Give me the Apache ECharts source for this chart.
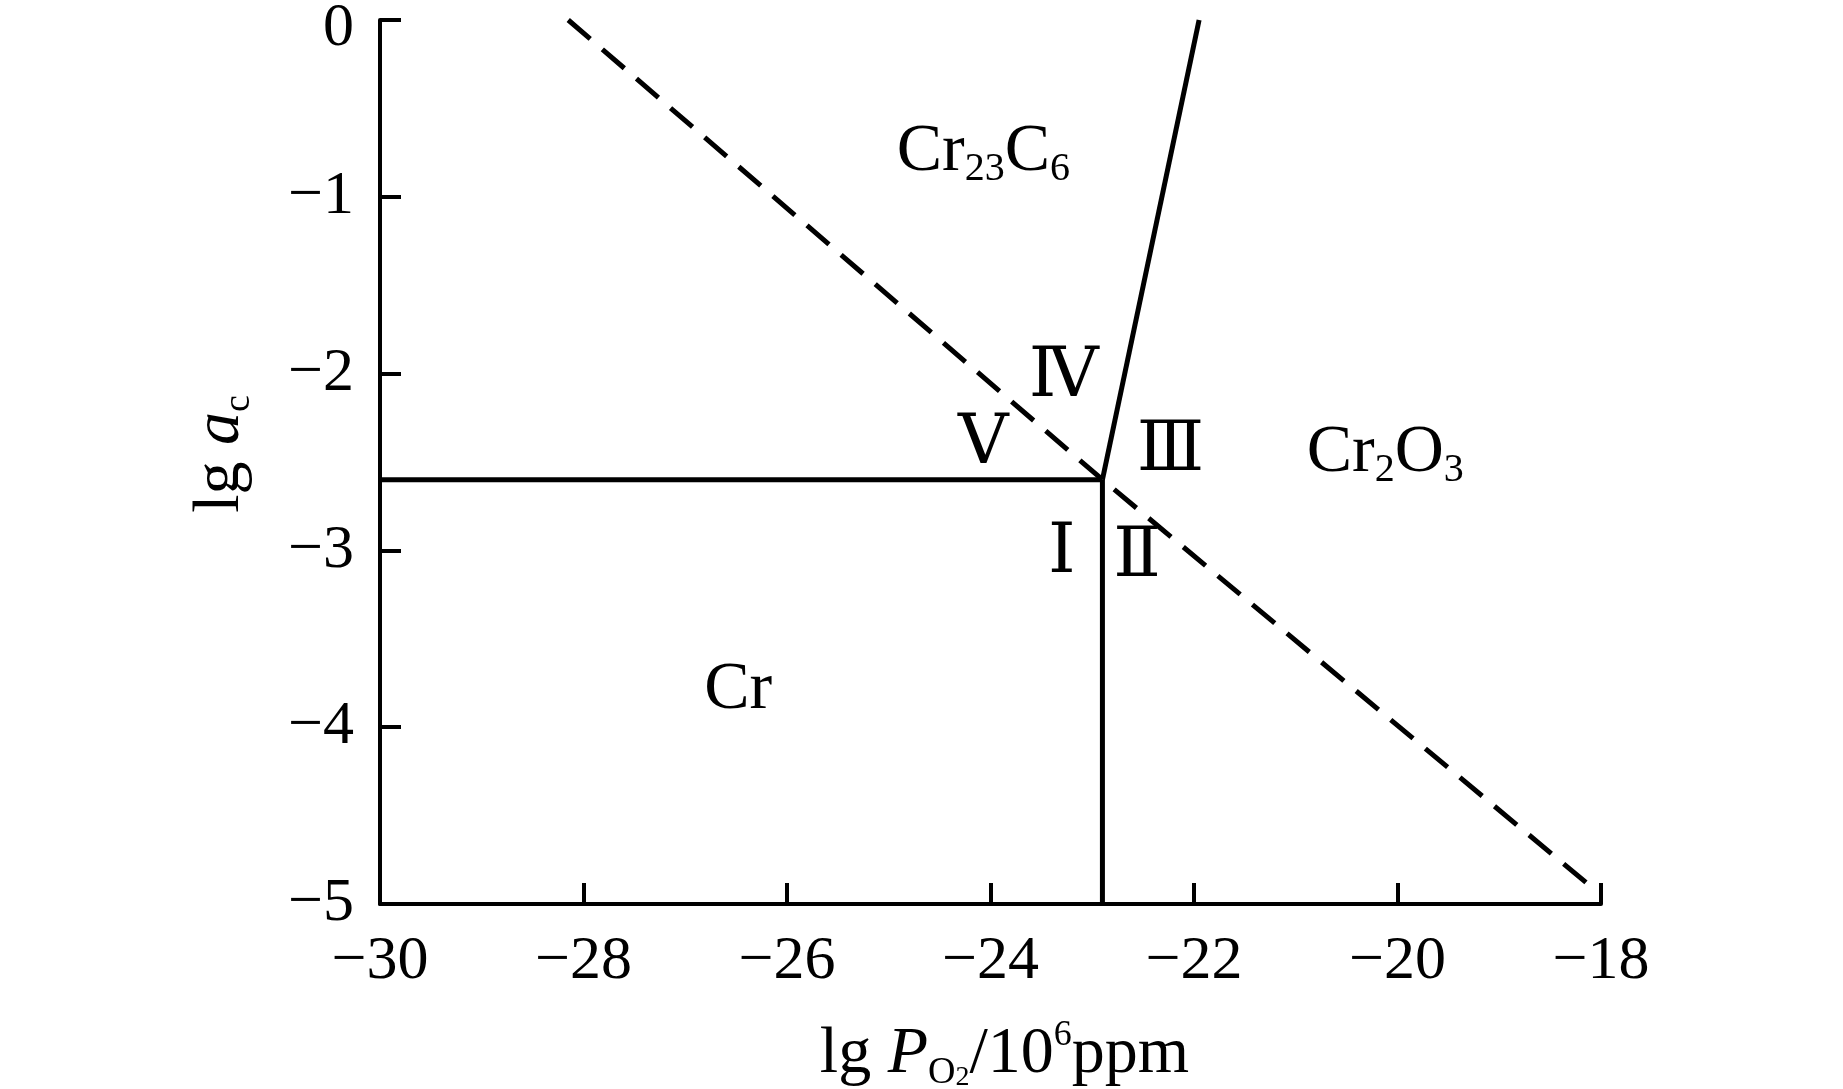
<!DOCTYPE html>
<html>
<head>
<meta charset="utf-8">
<script src="https://cdn.jsdelivr.net/npm/echarts@6/dist/echarts.min.js"></script>
<style>
html,body{margin:0;padding:0;background:#fff;}
#chart{width:1843px;height:1089px;}
</style>
</head>
<body>
<div id="chart"></div>
<script>
// ---- Data ----
const xTicks = [-30, -28, -26, -24, -22, -20, -18];
const yTicks = [0, -1, -2, -3, -4, -5];
// Cr / Cr23C6 boundary (horizontal solid)
const lineCrCr23C6 = [[-30, -2.6], [-22.9, -2.6]];
// Cr / Cr2O3 boundary (vertical solid)
const lineCrCr2O3 = [[-22.9, -2.6], [-22.9, -5]];
// Cr23C6 / Cr2O3 boundary (steep solid)
const lineCr23C6Cr2O3 = [[-22.9, -2.6], [-21.95, 0]];
// dashed line
const lineDashed = [[-28.15, 0], [-22.9, -2.6], [-18.06, -4.92]];
// phase names and region numerals: [x, y, richText]
const phaseLabels = [
  [-24.07, -0.75, '{m|Cr}{s|23}{m|C}{s|6}'],
  [-20.12, -2.45, '{m|Cr}{s|2}{m|O}{s|3}'],
  [-26.48, -3.79, '{m|Cr}']
];
const regionLabels = [
  [-23.3, -3.02, 'Ⅰ'],
  [-22.56, -3.04, 'Ⅱ'],
  [-22.23, -2.44, 'Ⅲ'],
  [-23.28, -2.02, 'Ⅳ'],
  [-24.07, -2.40, 'Ⅴ']
];

const FONT = '"Liberation Serif", "Times New Roman", "DejaVu Serif", serif';
const fmt = v => v === 0 ? '{z|0}' : String(v).replace('-', '\u2212');

const solid = (data) => ({
  type: 'line', data, symbol: 'none', silent: true,
  lineStyle: { color: '#000', width: 5 }, z: 3
});

const textSeries = (rows, style) => ({
  type: 'custom', silent: true, z: 6,
  data: rows.map(r => [r[0], r[1], r[2]]),
  dimensions: ['x', 'y', 't'],
  renderItem: (params, api) => {
    const p = api.coord([api.value(0), api.value(1)]);
    const row = rows[params.dataIndex];
    return {
      type: 'text', x: p[0], y: p[1],
      style: Object.assign({ text: row[2], align: 'center', verticalAlign: 'middle', fill: '#000' }, style)
    };
  }
});

const chart = echarts.init(document.getElementById('chart'), null, { renderer: 'canvas' });
chart.setOption({
  backgroundColor: '#fff',
  animation: false,
  grid: { left: 380, right: 242, top: 20, bottom: 185, containLabel: false, outerBoundsMode: 'none' },
  xAxis: {
    type: 'value', min: xTicks[0], max: xTicks[xTicks.length - 1], interval: 2,
    axisLine: { show: true, onZero: false, lineStyle: { color: '#000', width: 4 } },
    axisTick: { show: true, inside: true, length: 21, lineStyle: { color: '#000', width: 4 } },
    splitLine: { show: false },
    axisLabel: { color: '#000', fontSize: 62, fontFamily: FONT, margin: 27, formatter: fmt,
      rich: { z: { fontSize: 62, fontFamily: FONT, color: '#000' } } },
    name: '{n|lg }{i|P}{sub|O}{sub2|2}{n|/10}{sup|6}{n|ppm}',
    nameLocation: 'middle', nameGap: 114,
    nameTextStyle: {
      color: '#000', fontFamily: FONT, fontSize: 66, padding: [0, 0, 0, 28],
      rich: {
        n: { fontSize: 66, fontFamily: FONT, color: '#000', lineHeight: 74 },
        i: { fontSize: 66, fontFamily: FONT, fontStyle: 'italic', color: '#000', lineHeight: 74 },
        sub: { fontSize: 38, fontFamily: FONT, color: '#000', verticalAlign: 'bottom', lineHeight: 30 },
        sub2: { fontSize: 28, fontFamily: FONT, color: '#000', verticalAlign: 'bottom', lineHeight: 20 },
        sup: { fontSize: 36, fontFamily: FONT, color: '#000', verticalAlign: 'top', lineHeight: 52 }
      }
    }
  },
  yAxis: {
    type: 'value', min: yTicks[yTicks.length - 1], max: yTicks[0], interval: 1,
    axisLine: { show: true, onZero: false, lineStyle: { color: '#000', width: 4 } },
    axisTick: { show: true, inside: true, length: 21, lineStyle: { color: '#000', width: 4 } },
    splitLine: { show: false },
    axisLabel: { color: '#000', fontSize: 62, fontFamily: FONT, margin: 26, formatter: fmt,
      rich: { z: { fontSize: 62, fontFamily: FONT, color: '#000', padding: [18, 0, 0, 0] } } },
    name: '{n|lg }{i|a}{sub|c}',
    nameLocation: 'middle', nameGap: 122, nameRotate: 90,
    nameTextStyle: {
      color: '#000', fontFamily: FONT, fontSize: 66, padding: [0, 0, 0, 16],
      rich: {
        n: { fontSize: 66, fontFamily: FONT, color: '#000', lineHeight: 74 },
        i: { fontSize: 66, fontFamily: FONT, fontStyle: 'italic', color: '#000', lineHeight: 74 },
        sub: { fontSize: 38, fontFamily: FONT, color: '#000', verticalAlign: 'bottom', lineHeight: 30 }
      }
    }
  },
  series: [
    solid(lineCrCr23C6),
    solid(lineCrCr2O3),
    solid(lineCr23C6Cr2O3),
    {
      type: 'line', data: lineDashed, symbol: 'none', silent: true,
      lineStyle: { color: '#000', width: 5, type: [29, 16] }, z: 2
    },
    textSeries(phaseLabels, {
      rich: {
        m: { fontSize: 68, fontFamily: FONT, fill: '#000', lineHeight: 74 },
        s: { fontSize: 40, fontFamily: FONT, fill: '#000', verticalAlign: 'bottom', lineHeight: 34 }
      }
    }),
    textSeries(regionLabels, { fontSize: 70, fontFamily: FONT, fontWeight: 'normal' })
  ]
});
</script>
</body>
</html>
